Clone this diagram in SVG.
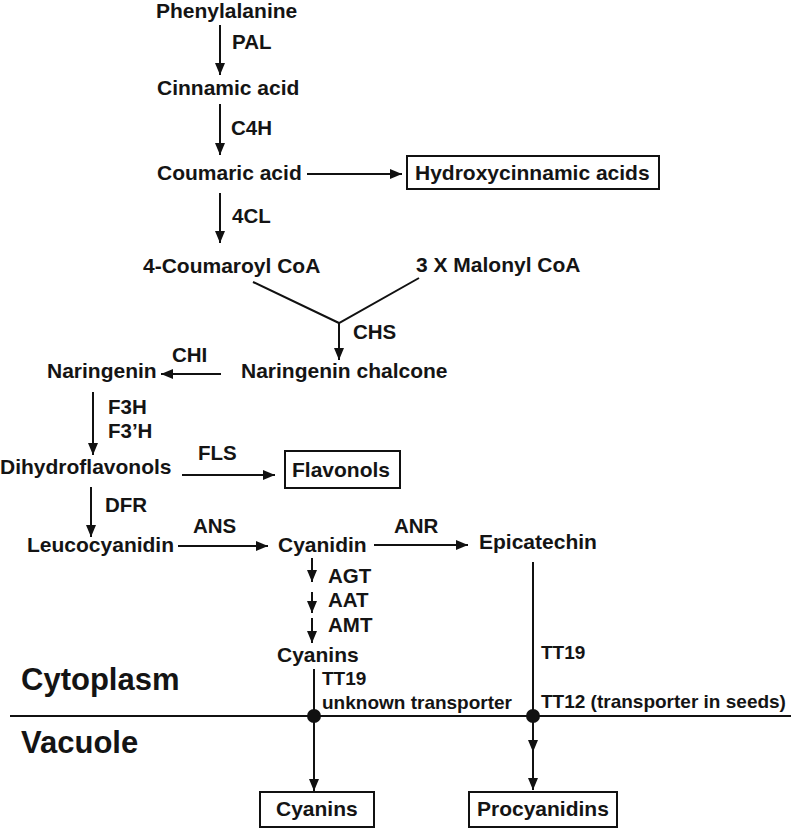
<svg xmlns="http://www.w3.org/2000/svg" width="791" height="830" viewBox="0 0 791 830">
<style>
text{font-family:"Liberation Sans",Arial,sans-serif;font-weight:bold;fill:#141414}
.n{font-size:21px}
.e{font-size:20.5px}
.s{font-size:19px}
.big{font-size:31px}
.ln{stroke:#111;stroke-width:2;fill:none}
.box{fill:#fff;stroke:#111;stroke-width:2}
</style>
<defs>
<marker id="ah" markerUnits="userSpaceOnUse" markerWidth="13" markerHeight="12" refX="12" refY="5" orient="auto">
<path d="M0,0 L12,5 L0,10 Z" fill="#111"/>
</marker>
</defs>
<rect width="791" height="830" fill="#fff"/>
<g id="connectors">
<line class="ln" x1="220" y1="25" x2="220" y2="75" marker-end="url(#ah)"/>
<line class="ln" x1="220" y1="104" x2="220" y2="155" marker-end="url(#ah)"/>
<line class="ln" x1="307" y1="174" x2="402" y2="174" marker-end="url(#ah)"/>
<line class="ln" x1="220" y1="193" x2="220" y2="243" marker-end="url(#ah)"/>
<polyline class="ln" points="253,282 339,323 419,278"/>
<line class="ln" x1="339" y1="323" x2="339" y2="360" marker-end="url(#ah)"/>
<line class="ln" x1="221" y1="374" x2="161" y2="374" marker-end="url(#ah)"/>
<line class="ln" x1="93" y1="392" x2="93" y2="455" marker-end="url(#ah)"/>
<line class="ln" x1="182" y1="475" x2="275" y2="475" marker-end="url(#ah)"/>
<line class="ln" x1="91" y1="487" x2="91" y2="537" marker-end="url(#ah)"/>
<line class="ln" x1="178" y1="546" x2="268" y2="546" marker-end="url(#ah)"/>
<line class="ln" x1="374" y1="545" x2="468" y2="545" marker-end="url(#ah)"/>
<line class="ln" x1="312" y1="558" x2="312" y2="582" marker-end="url(#ah)"/>
<line class="ln" x1="312" y1="592" x2="312" y2="613" marker-end="url(#ah)"/>
<line class="ln" x1="312" y1="618" x2="312" y2="643" marker-end="url(#ah)"/>
<line class="ln" x1="10" y1="716" x2="791" y2="716" stroke-width="2.5"/>
<line class="ln" x1="314" y1="669" x2="314" y2="791" marker-end="url(#ah)"/>
<line class="ln" x1="533" y1="562" x2="533" y2="752" marker-end="url(#ah)"/>
<line class="ln" x1="533" y1="752" x2="533" y2="790" marker-end="url(#ah)"/>
<circle cx="314" cy="716" r="7" fill="#111"/>
<circle cx="533" cy="716" r="7" fill="#111"/>
</g>
<g id="labels">
<text class="e" x="232" y="49">PAL</text>
<text class="e" x="231" y="135">C4H</text>
<text class="e" x="232" y="223">4CL</text>
<text class="e" x="353" y="339">CHS</text>
<text class="e" x="172" y="362">CHI</text>
<text class="e" x="108" y="414">F3H</text>
<text class="e" x="108" y="438">F3’H</text>
<text class="e" x="198" y="460">FLS</text>
<text class="e" x="105" y="512">DFR</text>
<text class="e" x="193" y="533">ANS</text>
<text class="e" x="394" y="533">ANR</text>
<text class="e" x="328" y="583">AGT</text>
<text class="e" x="328" y="607">AAT</text>
<text class="e" x="328" y="632">AMT</text>
<text class="s" x="322" y="685">TT19</text>
<text class="s" x="322" y="709">unknown transporter</text>
<text class="s" x="541" y="659">TT19</text>
<text class="s" x="541" y="708">TT12 (transporter in seeds)</text>
<text class="big" x="21" y="690">Cytoplasm</text>
<text class="big" x="21" y="753">Vacuole</text>
</g>
<g id="phenylalanine"><text class="n" x="156" y="18">Phenylalanine</text></g>
<g id="cinnamic"><text class="n" x="157" y="95">Cinnamic acid</text></g>
<g id="coumaric"><text class="n" x="157" y="180">Coumaric acid</text></g>
<g id="hydroxycinnamic"><rect class="box" x="407" y="156" width="252" height="33"/><text class="n" x="415" y="180">Hydroxycinnamic acids</text></g>
<g id="coumaroylcoa"><text class="n" x="143" y="273">4-Coumaroyl CoA</text></g>
<g id="malonylcoa"><text class="n" x="416" y="272">3 X Malonyl CoA</text></g>
<g id="chalcone"><text class="n" x="241" y="378">Naringenin chalcone</text></g>
<g id="naringenin"><text class="n" x="47" y="378">Naringenin</text></g>
<g id="dihydroflavonols"><text class="n" x="0" y="474">Dihydroflavonols</text></g>
<g id="flavonols"><rect class="box" x="285" y="451" width="115" height="37"/><text class="n" x="292" y="477">Flavonols</text></g>
<g id="leucocyanidin"><text class="n" x="27" y="552">Leucocyanidin</text></g>
<g id="cyanidin"><text class="n" x="278" y="552">Cyanidin</text></g>
<g id="epicatechin"><text class="n" x="479" y="549">Epicatechin</text></g>
<g id="cyanins-cyto"><text class="n" x="277" y="662">Cyanins</text></g>
<g id="cyanins-vac"><rect class="box" x="260" y="792" width="114" height="35"/><text class="n" x="276" y="816">Cyanins</text></g>
<g id="procyanidins"><rect class="box" x="469" y="792" width="148" height="35"/><text class="n" x="477" y="816">Procyanidins</text></g>
</svg>
